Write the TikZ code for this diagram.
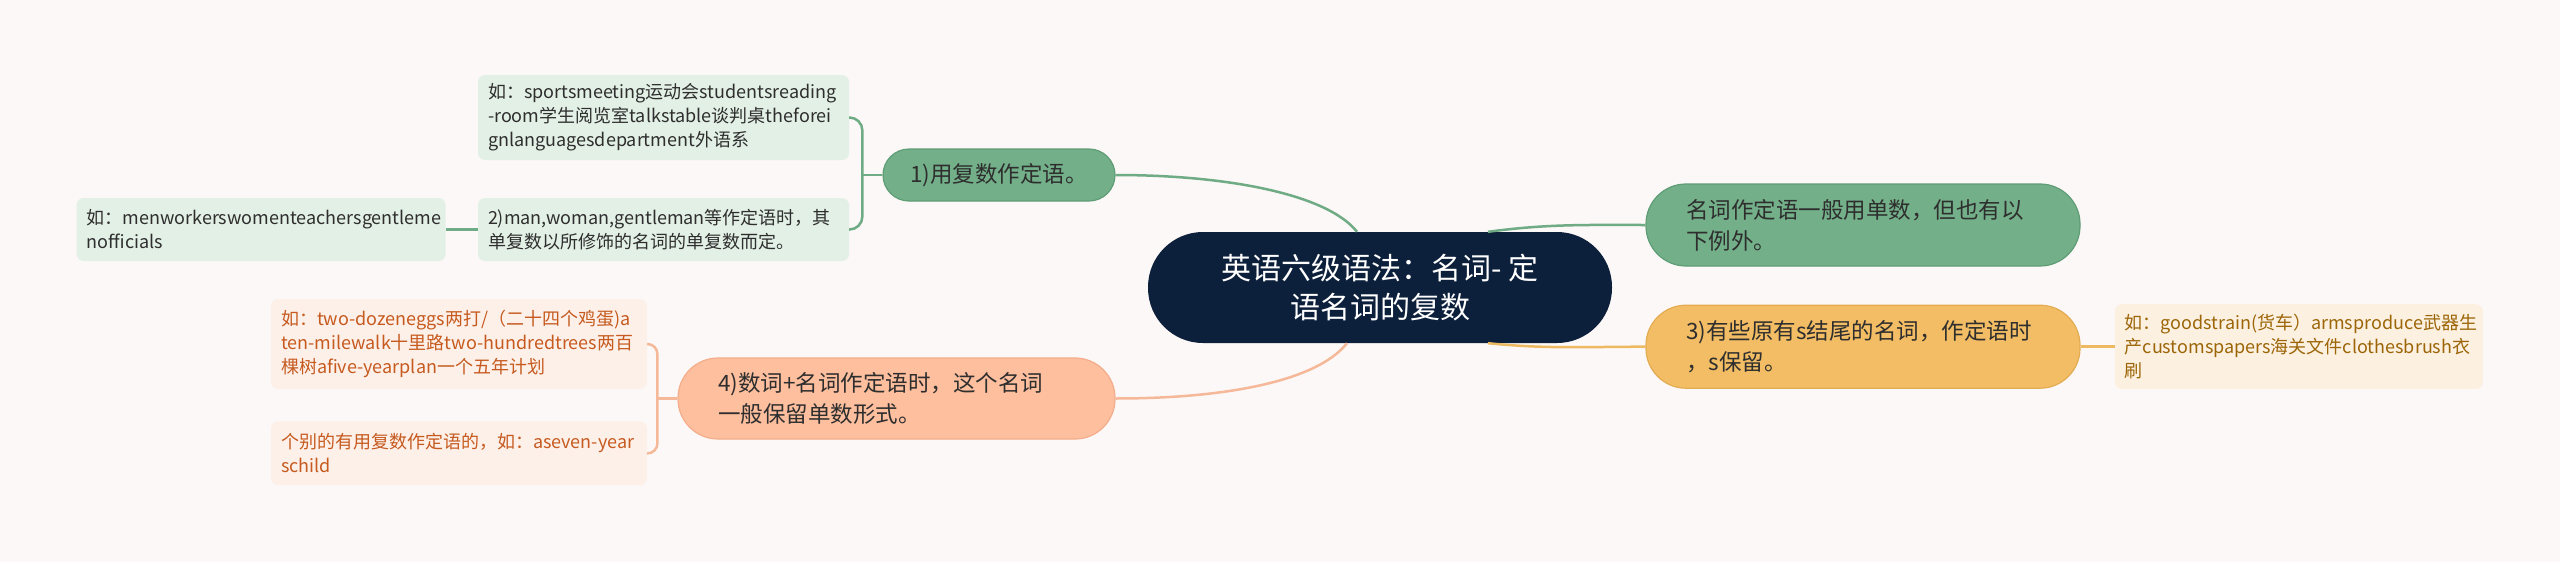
\documentclass[tikz,border=0pt]{standalone}
\usepackage{fontspec}
\setmainfont{Noto Sans CJK SC}
\usepackage{xcolor}
\usetikzlibrary{positioning,calc}
\definecolor{bgpaper}{HTML}{FCF8F7}
\definecolor{rootnavy}{HTML}{0C1F3B}
\definecolor{mossgreen}{HTML}{73B089}
\definecolor{mossedge}{HTML}{5F9D76}
\definecolor{mossline}{HTML}{6FAB84}
\definecolor{mosssoft}{HTML}{E3F0E6}
\definecolor{amber}{HTML}{F2BD64}
\definecolor{amberedge}{HTML}{E3AC52}
\definecolor{amberline}{HTML}{EDBA62}
\definecolor{ambersoft}{HTML}{FCF0E0}
\definecolor{ambertext}{HTML}{9C6608}
\definecolor{peach}{HTML}{FDBF9E}
\definecolor{peachedge}{HTML}{F3AD8A}
\definecolor{peachline}{HTML}{F5B898}
\definecolor{peachsoft}{HTML}{FDF0E9}
\definecolor{peachtext}{HTML}{C65A1F}
\definecolor{inkgray}{HTML}{2E2E2E}
\tikzset{
  rootnode/.style={fill=rootnavy, text=white, rounded corners=55pt, align=center, minimum width=464pt, minimum height=111pt, inner sep=0pt, font=\fontsize{30}{39}\selectfont},
  topic/.style={rounded corners=40pt, align=left, inner xsep=40pt, inner ysep=0pt, line width=1.2pt, text=inkgray, font=\fontsize{22.5}{31}\selectfont},
  greentopic/.style={topic, fill=mossgreen, draw=mossedge},
  ambertopic/.style={topic, fill=amber, draw=amberedge},
  peachtopic/.style={topic, fill=peach, draw=peachedge},
  leaf/.style={rounded corners=7pt, align=left, inner xsep=10pt, inner ysep=0pt, font=\fontsize{18}{24}\selectfont},
  greenleaf/.style={leaf, fill=mosssoft, text=inkgray},
  amberleaf/.style={leaf, fill=ambersoft, text=ambertext},
  peachleaf/.style={leaf, fill=peachsoft, text=peachtext},
  greenlink/.style={draw=mossline, line width=2.5pt},
  amberlink/.style={draw=amberline, line width=2.5pt},
  peachlink/.style={draw=peachline, line width=2.5pt}
}
\begin{document}
\begin{tikzpicture}[x=1pt, y=-1pt]
  \useasboundingbox (0,0) rectangle (2560,562);
  \fill[bgpaper] (0,0) rectangle (2560,562);

  % centre and right side
  \node[rootnode] (root) at (1380,287.5) {英语六级语法：名词- 定\\语名词的复数};
  \node[greentopic, text width=354pt, minimum height=82pt] (except) at (1863,225) {名词作定语一般用单数，但也有以\\下例外。};
  \node[ambertopic, text width=354pt, minimum height=83pt, below=38pt of except] (sform) {3)有些原有s结尾的名词，作定语时\\，s保留。};
  \node[amberleaf, text width=348pt, minimum height=85pt, right=34pt of sform] (sformeg) {如：goodstrain(货车）armsproduce武器生\\产customspapers海关文件clothesbrush衣\\刷};

  % left side
  \node[greentopic, rounded corners=26pt, align=center, inner xsep=0pt, minimum width=232pt, minimum height=52pt] (plural) at (999,175) {1)用复数作定语。};
  \node[greenleaf, text width=351pt, minimum height=85pt] (pluraleg) at (663.5,117.5) {如：sportsmeeting运动会studentsreading\\-room学生阅览室talkstable谈判桌theforei\\gnlanguagesdepartment外语系};
  \node[greenleaf, text width=351pt, minimum height=63pt] (gender) at (663.5,229.5) {2)man,woman,gentleman等作定语时，其\\单复数以所修饰的名词的单复数而定。};
  \node[greenleaf, text width=349pt, minimum height=63pt, left=32pt of gender] (gendereg) {如：menworkerswomenteachersgentleme\\nofficials};
  \node[peachtopic, text width=357pt, minimum height=81pt] (numeral) at (896.5,398.5) {4)数词+名词作定语时，这个名词\\一般保留单数形式。};
  \node[peachleaf, text width=356pt, minimum height=90pt] (numeraleg) at (459,344) {如：two-dozeneggs两打/（二十四个鸡蛋)a\\ten-milewalk十里路two-hundredtrees两百\\棵树afive-yearplan一个五年计划};
  \node[peachleaf, text width=356pt, minimum height=64pt, below=32pt of numeraleg] (numeralex) {个别的有用复数作定语的，如：aseven-year\\schild};

  \draw[greenlink] ($(root.north)+(-23,0)$) .. controls +(-30,-38) and +(110,0) .. (plural.east);
  \draw[greenlink] ($(root.north)+(108,0)$) .. controls +(60,-8) and +(-60,0) .. (except.west);
  \draw[amberlink] ($(root.south)+(108,0)$) .. controls +(60,6) and +(-60,0) .. (sform.west);
  \draw[peachlink] ($(root.south)+(-33,0)$) .. controls +(-30,38) and +(110,0) .. (numeral.east);

  \draw[greenlink] (plural.west) -- ++(-20,0) coordinate (pluralfork);
  \draw[greenlink, rounded corners=13pt] (pluraleg.east) -| (pluralfork) |- (gender.east);
  \draw[greenlink] (gender.west) -- (gendereg.east);
  \draw[peachlink] (numeral.west) -- ++(-20,0) coordinate (numeralfork);
  \draw[peachlink, rounded corners=10pt] (numeraleg.east) -| (numeralfork) |- (numeralex.east);
  \draw[amberlink] (sform.east) -- (sformeg.west);
\end{tikzpicture}
\end{document}
